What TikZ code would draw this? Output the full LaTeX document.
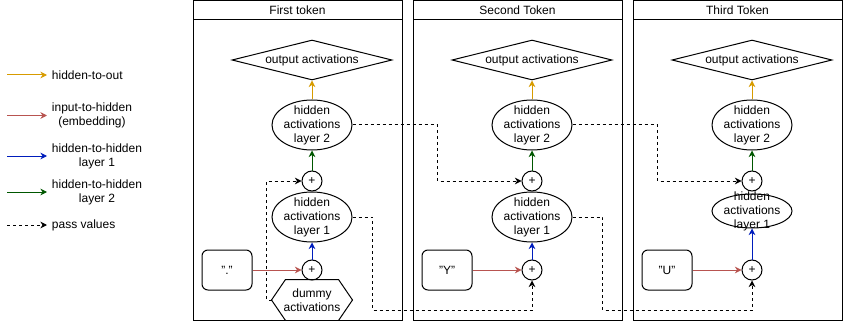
\documentclass[tikz,border=0pt]{standalone}
\usepackage{fontspec}
\setmainfont{Liberation Sans}
\usetikzlibrary{arrows.meta,shapes.geometric,calc}
\definecolor{outcol}{HTML}{D79B00}
\definecolor{incol}{HTML}{B85450}
\definecolor{hidcola}{HTML}{001DBC}
\definecolor{hidcolb}{HTML}{005700}
\begin{document}
\begin{tikzpicture}[x=0.75pt,y=-0.75pt,line width=0.75pt,
	font=\fontsize{9}{10.5}\selectfont,
	>={Stealth[length=5pt,width=5pt]},
	outbox/.style={diamond,draw,aspect=4,inner sep=0pt,minimum width=120pt,minimum height=30pt},
	hidbox/.style={ellipse,draw,align=center,inner xsep=-2pt,inner ysep=-1.6pt,minimum width=60pt,minimum height=37.5pt},
	sumbox/.style={circle,draw,inner sep=0pt,minimum size=15pt},
	inbox/.style={draw,rounded corners=4.5pt,minimum width=37.5pt,minimum height=30pt},
	tout/.style={->,draw=outcol},
	tin/.style={->,draw=incol},
	thida/.style={->,draw=hidcola},
	thidb/.style={->,draw=hidcolb},
	pass/.style={->,dashed,dash pattern=on 2.25pt off 2.25pt}]
	\useasboundingbox (0,0) rectangle (843,321);
	% legend
	\coordinate (la1) at (7,75);
	\coordinate (la2) at (7,115.5);
	\coordinate (la3) at (7,156);
	\coordinate (la4) at (7,192);
	\coordinate (la5) at (7,225);
	\node[anchor=west] (lt1) at (47,75) {hidden-to-out};
	\node[anchor=west,align=center] (lt2) at (47,115.5) {input-to-hidden\\(embedding)};
	\node[anchor=west,align=center] (lt3) at (47,156) {hidden-to-hidden\\layer 1};
	\node[anchor=west,align=center] (lt4) at (47,192) {hidden-to-hidden\\layer 2};
	\node[anchor=west] (lt5) at (47,225) {pass values};
	\draw[tout] (la1) -- (lt1);
	\draw[tin] (la2) -- (lt2);
	\draw[thida] (la3) -- (lt3);
	\draw[thidb] (la4) -- (lt4);
	\draw[pass] (la5) -- (lt5);
	
	% the three token lanes
	\draw (193,0.5) rectangle (402,320); \draw (193,20) -- (402,20);
	\draw (413,0.5) rectangle (622,320); \draw (413,20) -- (622,20);
	\draw (633,0.5) rectangle (842,320); \draw (633,20) -- (842,20);
	\node (ttla) at (297.5,10) {First token};
	\node (ttlb) at (517.5,10) {Second Token};
	\node (ttlc) at (737.5,10) {Third Token};
	
	% first token
	\node[outbox] (outa) at (312,60) {output activations};
	\node[hidbox] (h2a) at (312,125) {hidden\\activations\\layer 2};
	\node[sumbox] (s1a) at (312,181) {+};
	\node[hidbox] (h1a) at (312,217) {hidden\\activations\\layer 1};
	\node[sumbox] (s2a) at (312,270) {+};
	\node[inbox] (ina) at (227,270) {"."};
	\node[minimum width=60pt,minimum height=30pt,align=center] (dmya) at (312,300) {dummy\\activations};
	\draw ($(dmya.north west)+(14,0)$) -- ($(dmya.north east)+(-14,0)$) -- (dmya.east)
		-- ($(dmya.south east)+(-14,0)$) -- ($(dmya.south west)+(14,0)$) -- (dmya.west) -- cycle;
	
	% second token
	\node[outbox] (outb) at (532,60) {output activations};
	\node[hidbox] (h2b) at (532,125) {hidden\\activations\\layer 2};
	\node[sumbox] (s1b) at (532,181) {+};
	\node[hidbox] (h1b) at (532,217) {hidden\\activations\\layer 1};
	\node[sumbox] (s2b) at (532,270) {+};
	\node[inbox] (inb) at (447,270) {"Y"};
	
	% third token
	\node[outbox] (outc) at (752,60) {output activations};
	\node[hidbox] (h2c) at (752,125) {hidden\\activations\\layer 2};
	\node[sumbox] (s1c) at (752,181) {+};
	\node[hidbox,inner ysep=-5.8pt,minimum height=25.5pt] (h1c) at (752,211) {hidden\\activations\\layer 1};
	\node[sumbox] (s2c) at (752,270) {+};
	\node[inbox] (inc) at (667,270) {"U"};
	
	% weights
	\draw[tin] (ina) -- (s2a);
	\draw[tin] (inb) -- (s2b);
	\draw[tin] (inc) -- (s2c);
	\draw[thida] (s2a) -- (h1a);
	\draw[thida] (s2b) -- (h1b);
	\draw[thida] (s2c) -- (h1c);
	\draw[thidb] (s1a) -- (h2a);
	\draw[thidb] (s1b) -- (h2b);
	\draw[thidb] (s1c) -- (h2c);
	\draw[tout] (h2a) -- (outa);
	\draw[tout] (h2b) -- (outb);
	\draw[tout] (h2c) -- (outc);
	
	% values passed on
	\draw[pass] (dmya.west) -- ++(-5,0) |- (s1a.west);
	\draw[pass] (h2a.east) -- ++(85,0) |- (s1b.west);
	\draw[pass] (h2b.east) -- ++(85,0) |- (s1c.west);
	\draw[pass] (h1a.east) -| ++(20,93) -| (s2b.south);
	\draw[pass] (h1b.east) -| ++(30,93) -| (s2c.south);
\end{tikzpicture}
\end{document}
